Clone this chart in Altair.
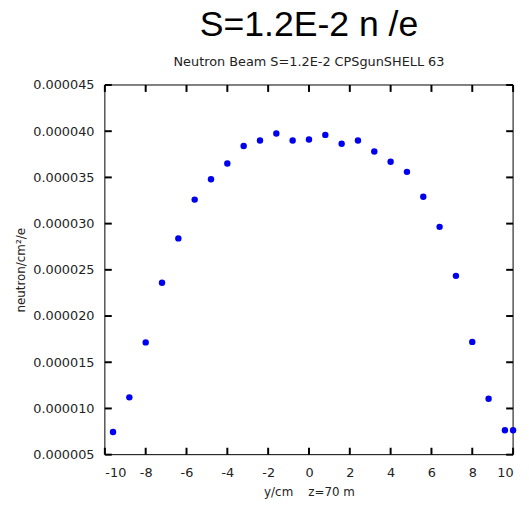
import altair as alt
import pandas as pd

# data (y in neutron/cm^2/e)
y_pos = [-9.6, -8.8, -8.0, -7.2, -6.4, -5.6, -4.8, -4.0, -3.2, -2.4, -1.6, -0.8, 0.0,
         0.8, 1.6, 2.4, 3.2, 4.0, 4.8, 5.6, 6.4, 7.2, 8.0, 8.8, 9.6, 10.0]
flux_e6 = [7.46, 11.2, 17.15, 23.6, 28.4, 32.6, 34.8, 36.5, 38.4, 39.0, 39.75, 39.0, 39.1,
           39.6, 38.65, 39.0, 37.8, 36.7, 35.6, 32.9, 29.65, 24.35, 17.2, 11.05, 7.65, 7.65]
x_ticks = [-10, -8, -6, -4, -2, 0, 2, 4, 6, 8, 10]
y_ticks = [5e-6, 10e-6, 15e-6, 20e-6, 25e-6, 30e-6, 35e-6, 40e-6, 45e-6]

W, H = 413, 374
TL = 7

df = pd.DataFrame({"y": y_pos, "flux": [v * 1e-6 for v in flux_e6]})
dxt = pd.DataFrame({"y": x_ticks})
dyt = pd.DataFrame({"flux": y_ticks})
dframe = pd.DataFrame({"f": [0]})

xscale = alt.Scale(domain=[-10, 10], nice=False, zero=False)
yscale = alt.Scale(domain=[5e-6, 45e-6], nice=False, zero=False)

x_bottom = alt.Axis(values=x_ticks, labelExpr="'' + datum.value",
                    title="y/cm\u00a0\u00a0\u00a0\u00a0z=70 m", grid=False, domain=False,
                    ticks=False, labelPadding=12, titlePadding=7,
                    labelFont="DejaVu Sans", labelFontSize=13, labelColor="#222",
                    titleFont="DejaVu Sans", titleFontSize=12, titleFontWeight="normal",
                    titleColor="#222")
y_left = alt.Axis(values=y_ticks, format=".6f", title="neutron/cm\u00b2/e",
                  grid=False, domain=False, ticks=False, labelPadding=11, titlePadding=5,
                  labelFont="DejaVu Sans", labelFontSize=13, labelColor="#222",
                  titleFont="DejaVu Sans", titleFontSize=12, titleFontWeight="normal",
                  titleColor="#222")

frame = alt.Chart(dframe).mark_rect(fillOpacity=0, stroke="black", strokeWidth=1).encode(
    x=alt.value(0), x2=alt.value(W), y=alt.value(0), y2=alt.value(H))

points = alt.Chart(df).mark_circle(size=42, color="#0000f0", opacity=1).encode(
    x=alt.X("y:Q", scale=xscale, axis=x_bottom),
    y=alt.Y("flux:Q", scale=yscale, axis=y_left),
)

left_t = alt.Chart(dyt).mark_rule(color="#000000", strokeWidth=2).encode(
    y=alt.Y("flux:Q", scale=yscale), x=alt.value(0), x2=alt.value(TL))
right_t = alt.Chart(dyt).mark_rule(color="#000000", strokeWidth=2).encode(
    y=alt.Y("flux:Q", scale=yscale), x=alt.value(W - TL), x2=alt.value(W))
bot_t = alt.Chart(dxt).mark_rule(color="#000000", strokeWidth=2).encode(
    x=alt.X("y:Q", scale=xscale), y=alt.value(H - TL), y2=alt.value(H))
top_t = alt.Chart(dxt).mark_rule(color="#000000", strokeWidth=2).encode(
    x=alt.X("y:Q", scale=xscale), y=alt.value(0), y2=alt.value(TL))

chart = alt.layer(frame, points, left_t, right_t, bot_t, top_t).properties(
    width=W, height=H,
    title=alt.Title(
        text="S=1.2E-2 n /e",
        subtitle="Neutron Beam S=1.2E-2 CPSgunSHELL 63",
        anchor="middle", font="Liberation Sans", fontSize=36, fontWeight="normal",
        color="black", subtitleFont="DejaVu Sans", subtitleFontSize=13,
        subtitleColor="#222", subtitlePadding=13, offset=9,
    ),
    autosize=alt.AutoSizeParams(type="none"),
    padding={"left": 98, "top": 75, "right": 8, "bottom": 45},
).configure_view(strokeWidth=0)

chart.save("out.html", embed_options={"renderer": "svg", "actions": False})
